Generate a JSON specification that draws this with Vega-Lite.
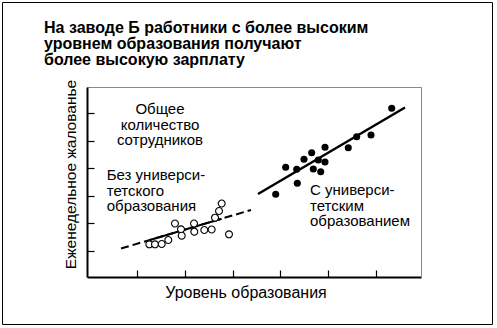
{
  "$schema": "https://vega.github.io/schema/vega-lite/v6.json",
  "width": 490,
  "height": 322,
  "autosize": {"type": "none"},
  "padding": {"left": 2, "top": 2, "right": 5, "bottom": 4},
  "background": "white",
  "config": {
    "view": {"stroke": "black", "strokeWidth": 1},
    "font": "Liberation Sans"
  },
  "title": {
    "text": ["На заводе Б работники с более высоким", "уровнем образования получают", "более высокую зарплату"],
    "anchor": "start",
    "frame": "group",
    "align": "left",
    "fontSize": 16,
    "fontWeight": "bold",
    "font": "Liberation Sans",
    "color": "black",
    "lineHeight": 16,
    "offset": 0,
    "dx": 42,
    "dy": 65.5
  },
  "datasets": {
    "open": [
      {"x": 1.256, "y": 1.244}, {"x": 1.375, "y": 1.244}, {"x": 1.516, "y": 1.255},
      {"x": 1.654, "y": 1.40}, {"x": 1.794, "y": 1.997}, {"x": 1.92, "y": 1.787},
      {"x": 1.935, "y": 1.556}, {"x": 2.193, "y": 1.997}, {"x": 2.199, "y": 1.70},
      {"x": 2.408, "y": 1.762}, {"x": 2.563, "y": 1.78}, {"x": 2.633, "y": 2.207},
      {"x": 2.717, "y": 2.45}, {"x": 2.773, "y": 2.722}, {"x": 2.926, "y": 1.606}
    ],
    "filled": [
      {"x": 6.336, "y": 6.169}, {"x": 5.602, "y": 5.14}, {"x": 5.902, "y": 5.202},
      {"x": 5.426, "y": 4.742}, {"x": 4.938, "y": 4.757}, {"x": 4.659, "y": 4.561},
      {"x": 4.498, "y": 4.322}, {"x": 4.798, "y": 4.297}, {"x": 4.938, "y": 4.224},
      {"x": 4.114, "y": 4.032}, {"x": 4.345, "y": 3.96}, {"x": 4.693, "y": 3.971},
      {"x": 4.848, "y": 3.873}, {"x": 4.358, "y": 3.453}, {"x": 3.905, "y": 3.055}
    ],
    "fitA": [{"x": 0.663, "y": 1.092}, {"x": 3.387, "y": 2.486}],
    "fitAcore": [{"x": 1.25, "y": 1.392}, {"x": 2.77, "y": 2.17}],
    "fitB": [{"x": 3.534, "y": 3.066}, {"x": 6.615, "y": 6.198}],
    "labelCenter": [{"x": 1.48, "y": 5.962, "text": "Общее\nколичество\nсотрудников"}],
    "labelLeft": [
      {"x": 0.363, "y": 3.572, "text": "Без универси-\nтетского\nобразования"},
      {"x": 4.624, "y": 3.029, "text": "С универси-\nтетским\nобразованием"}
    ]
  },
  "layer": [
    {
      "data": {"name": "fitA"},
      "mark": {"type": "line", "color": "black", "strokeWidth": 2, "strokeDash": [8, 4]},
      "encoding": {
        "x": {
          "field": "x", "type": "quantitative",
          "scale": {"domain": [-0.05, 6.95], "range": [85, 419], "nice": false, "zero": false},
          "axis": {
            "orient": "bottom", "offset": -47, "values": [1, 2, 3, 4, 5, 6],
            "labels": false, "grid": false,
            "domainColor": "black", "domainWidth": 2,
            "tickColor": "black", "tickWidth": 1.2, "tickSize": -7,
            "title": "Уровень образования", "titleFont": "Liberation Sans", "titleFontSize": 16,
            "titleFontWeight": "normal", "titleColor": "black",
            "titleX": 243.5, "titleY": 20.5, "titleAlign": "center", "titleBaseline": "alphabetic"
          }
        },
        "y": {
          "field": "y", "type": "quantitative",
          "scale": {"domain": [0.06, 6.94], "range": [275, 85], "nice": false, "zero": false},
          "axis": {
            "orient": "left", "offset": -85, "values": [1, 2, 3, 4, 5, 6],
            "labels": false, "grid": false,
            "domainColor": "black", "domainWidth": 2,
            "tickColor": "black", "tickWidth": 1.2, "tickSize": -7,
            "title": "Еженедельное жалованье", "titleFont": "Liberation Sans", "titleFontSize": 15.5,
            "titleFontWeight": "normal", "titleColor": "black",
            "titleX": -11.5, "titleY": 172, "titleAngle": 270, "titleAlign": "center", "titleBaseline": "alphabetic"
          }
        }
      }
    },
    {
      "data": {"name": "fitAcore"},
      "mark": {"type": "line", "color": "black", "strokeWidth": 2},
      "encoding": {
        "x": {"field": "x", "type": "quantitative", "axis": null},
        "y": {"field": "y", "type": "quantitative", "axis": null}
      }
    },
    {
      "data": {"name": "fitB"},
      "mark": {"type": "line", "color": "black", "strokeWidth": 2.5},
      "encoding": {
        "x": {"field": "x", "type": "quantitative", "axis": null},
        "y": {"field": "y", "type": "quantitative", "axis": null}
      }
    },
    {
      "data": {"name": "open"},
      "mark": {"type": "point", "shape": "circle", "filled": true, "fill": "white", "stroke": "black", "strokeWidth": 1.1, "size": 48, "opacity": 1},
      "encoding": {
        "x": {"field": "x", "type": "quantitative", "axis": null},
        "y": {"field": "y", "type": "quantitative", "axis": null}
      }
    },
    {
      "data": {"name": "filled"},
      "mark": {"type": "point", "shape": "circle", "filled": true, "color": "black", "size": 50, "opacity": 1},
      "encoding": {
        "x": {"field": "x", "type": "quantitative", "axis": null},
        "y": {"field": "y", "type": "quantitative", "axis": null}
      }
    },
    {
      "data": {"name": "labelCenter"},
      "mark": {"type": "text", "align": "center", "baseline": "alphabetic", "lineBreak": "\n", "lineHeight": 15.5, "fontSize": 15, "font": "Liberation Sans", "color": "black"},
      "encoding": {
        "x": {"field": "x", "type": "quantitative", "axis": null},
        "y": {"field": "y", "type": "quantitative", "axis": null},
        "text": {"field": "text"}
      }
    },
    {
      "data": {"name": "labelLeft"},
      "mark": {"type": "text", "align": "left", "baseline": "alphabetic", "lineBreak": "\n", "lineHeight": 15.5, "fontSize": 15, "font": "Liberation Sans", "color": "black"},
      "encoding": {
        "x": {"field": "x", "type": "quantitative", "axis": null},
        "y": {"field": "y", "type": "quantitative", "axis": null},
        "text": {"field": "text"}
      }
    },
    {
      "mark": {"type": "point", "shape": "M0,0L-0.65,2L0.65,2Z", "filled": true, "color": "black", "size": 100, "opacity": 1},
      "encoding": {
        "x": {"datum": -0.05, "type": "quantitative", "axis": null},
        "y": {"datum": 6.94, "type": "quantitative", "axis": null}
      }
    },
    {
      "mark": {"type": "point", "shape": "M0,0L-2,-0.65L-2,0.65Z", "filled": true, "color": "black", "size": 100, "opacity": 1},
      "encoding": {
        "x": {
          "datum": 6.95, "type": "quantitative",
          "axis": {"orient": "top", "offset": -85, "domainColor": "#888888", "domainWidth": 1, "ticks": false, "labels": false, "grid": false, "title": null}
        },
        "y": {
          "datum": 0.06, "type": "quantitative",
          "axis": {"orient": "right", "offset": -71, "domainColor": "#888888", "domainWidth": 1, "ticks": false, "labels": false, "grid": false, "title": null}
        }
      }
    }
  ],
  "resolve": {"axis": {"x": "independent", "y": "independent"}}
}
